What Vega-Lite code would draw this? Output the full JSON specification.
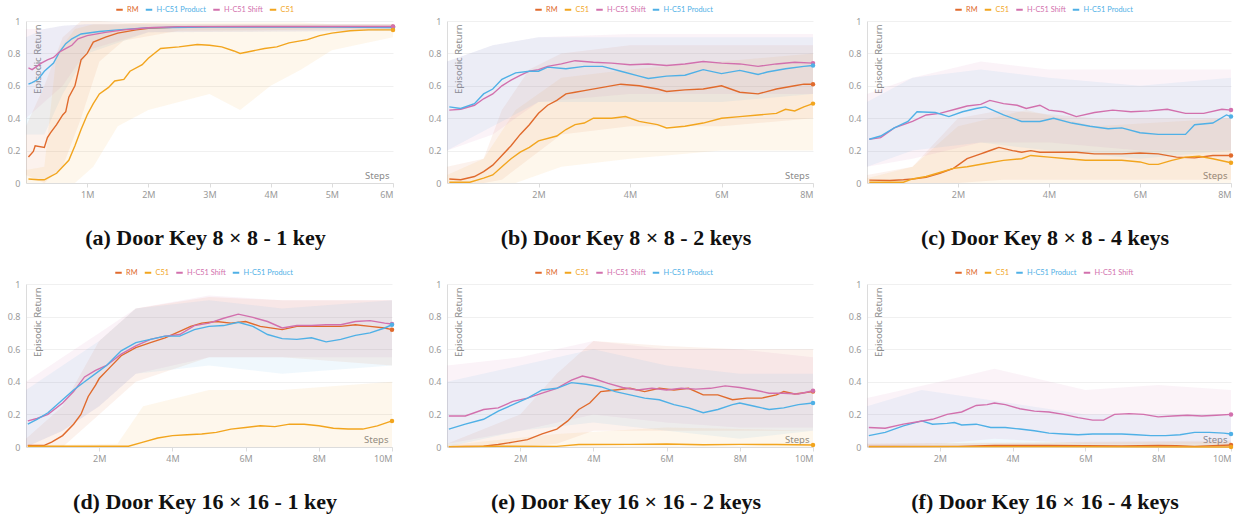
{
"$schema": "https://vega.github.io/schema/vega-lite/v6.json",
"padding": {"left": 7, "top": 5, "right": 2, "bottom": 2},
"background": "white",
"columns": 3,
"spacing": {"row": 19, "column": 32},
"resolve": {"scale": {"color": "independent", "x": "independent", "y": "independent"}, "legend": {"color": "independent"}},
"config": {
  "view": {"stroke": null},
  "font": "Noto Sans",
  "axis": {"labelFont": "Noto Sans", "labelFontSize": 9, "labelColor": "#9a9a9a", "titleFont": "Noto Sans", "titleFontSize": 9.5, "titleFontWeight": "normal", "titleColor": "#8a8a8a", "domainColor": "#dcdcdc", "tickColor": "#dcdcdc", "gridColor": "#f0f0f0", "labelOverlap": false},
  "legend": {"labelFont": "Lato", "labelFontSize": 7.4, "gridAlign": "each"},
  "title": {"font": "Liberation Serif", "fontSize": 22, "fontWeight": "bold", "color": "#111111"}
},
"datasets": {
"a": [
{"s":"RM","x":0.04,"y":0.16},{"s":"RM","x":0.12,"y":0.195},{"s":"RM","x":0.15,"y":0.23},{"s":"RM","x":0.3,"y":0.22},{"s":"RM","x":0.35,"y":0.28},{"s":"RM","x":0.4,"y":0.31},{"s":"RM","x":0.5,"y":0.36},{"s":"RM","x":0.6,"y":0.42},{"s":"RM","x":0.65,"y":0.44},{"s":"RM","x":0.7,"y":0.53},{"s":"RM","x":0.8,"y":0.6},{"s":"RM","x":0.9,"y":0.76},{"s":"RM","x":1.0,"y":0.8},{"s":"RM","x":1.1,"y":0.87},{"s":"RM","x":1.3,"y":0.9},{"s":"RM","x":1.5,"y":0.925},{"s":"RM","x":1.8,"y":0.945},{"s":"RM","x":2.0,"y":0.955},{"s":"RM","x":2.5,"y":0.962},{"s":"RM","x":3,"y":0.965},{"s":"RM","x":4,"y":0.965},{"s":"RM","x":5,"y":0.965},{"s":"RM","x":6,"y":0.965},
{"s":"H-C51 Product","x":0.04,"y":0.61},{"s":"H-C51 Product","x":0.1,"y":0.62},{"s":"H-C51 Product","x":0.2,"y":0.64},{"s":"H-C51 Product","x":0.3,"y":0.69},{"s":"H-C51 Product","x":0.45,"y":0.74},{"s":"H-C51 Product","x":0.55,"y":0.81},{"s":"H-C51 Product","x":0.65,"y":0.86},{"s":"H-C51 Product","x":0.75,"y":0.89},{"s":"H-C51 Product","x":0.9,"y":0.92},{"s":"H-C51 Product","x":1.2,"y":0.935},{"s":"H-C51 Product","x":1.5,"y":0.945},{"s":"H-C51 Product","x":2,"y":0.958},{"s":"H-C51 Product","x":3,"y":0.963},{"s":"H-C51 Product","x":4,"y":0.963},{"s":"H-C51 Product","x":5,"y":0.962},{"s":"H-C51 Product","x":6,"y":0.96},
{"s":"H-C51 Shift","x":0.04,"y":0.71},{"s":"H-C51 Shift","x":0.1,"y":0.7},{"s":"H-C51 Shift","x":0.25,"y":0.74},{"s":"H-C51 Shift","x":0.35,"y":0.76},{"s":"H-C51 Shift","x":0.45,"y":0.775},{"s":"H-C51 Shift","x":0.55,"y":0.81},{"s":"H-C51 Shift","x":0.7,"y":0.84},{"s":"H-C51 Shift","x":0.75,"y":0.85},{"s":"H-C51 Shift","x":0.85,"y":0.89},{"s":"H-C51 Shift","x":1.0,"y":0.91},{"s":"H-C51 Shift","x":1.3,"y":0.93},{"s":"H-C51 Shift","x":1.6,"y":0.945},{"s":"H-C51 Shift","x":2,"y":0.958},{"s":"H-C51 Shift","x":2.5,"y":0.965},{"s":"H-C51 Shift","x":4,"y":0.966},{"s":"H-C51 Shift","x":6,"y":0.966},
{"s":"C51","x":0.04,"y":0.025},{"s":"C51","x":0.2,"y":0.02},{"s":"C51","x":0.3,"y":0.02},{"s":"C51","x":0.35,"y":0.03},{"s":"C51","x":0.5,"y":0.06},{"s":"C51","x":0.6,"y":0.1},{"s":"C51","x":0.7,"y":0.14},{"s":"C51","x":0.8,"y":0.23},{"s":"C51","x":0.9,"y":0.33},{"s":"C51","x":1.0,"y":0.42},{"s":"C51","x":1.1,"y":0.49},{"s":"C51","x":1.2,"y":0.55},{"s":"C51","x":1.35,"y":0.59},{"s":"C51","x":1.45,"y":0.63},{"s":"C51","x":1.6,"y":0.64},{"s":"C51","x":1.7,"y":0.69},{"s":"C51","x":1.9,"y":0.73},{"s":"C51","x":2.0,"y":0.77},{"s":"C51","x":2.2,"y":0.83},{"s":"C51","x":2.5,"y":0.84},{"s":"C51","x":2.8,"y":0.855},{"s":"C51","x":3.0,"y":0.85},{"s":"C51","x":3.2,"y":0.84},{"s":"C51","x":3.4,"y":0.815},{"s":"C51","x":3.5,"y":0.8},{"s":"C51","x":3.7,"y":0.815},{"s":"C51","x":3.9,"y":0.83},{"s":"C51","x":4.1,"y":0.84},{"s":"C51","x":4.3,"y":0.865},{"s":"C51","x":4.6,"y":0.885},{"s":"C51","x":4.8,"y":0.91},{"s":"C51","x":5.0,"y":0.925},{"s":"C51","x":5.3,"y":0.94},{"s":"C51","x":5.6,"y":0.945},{"s":"C51","x":6.0,"y":0.945}
],
"a_band": [
{"s":"RM","x":0,"lo":0.05,"hi":0.35},{"s":"RM","x":0.3,"lo":0.0,"hi":0.6},{"s":"RM","x":0.6,"lo":0.1,"hi":0.9},{"s":"RM","x":0.9,"lo":0.4,"hi":1.0},{"s":"RM","x":1.2,"lo":0.75,"hi":1.0},{"s":"RM","x":1.6,"lo":0.88,"hi":0.99},{"s":"RM","x":2.5,"lo":0.94,"hi":0.98},{"s":"RM","x":6,"lo":0.95,"hi":0.98},
{"s":"H-C51 Product","x":0,"lo":0.3,"hi":0.9},{"s":"H-C51 Product","x":0.3,"lo":0.3,"hi":0.95},{"s":"H-C51 Product","x":0.6,"lo":0.55,"hi":0.97},{"s":"H-C51 Product","x":1,"lo":0.8,"hi":0.98},{"s":"H-C51 Product","x":2,"lo":0.93,"hi":0.98},{"s":"H-C51 Product","x":6,"lo":0.94,"hi":0.98},
{"s":"H-C51 Shift","x":0,"lo":0.4,"hi":0.95},{"s":"H-C51 Shift","x":0.3,"lo":0.5,"hi":0.95},{"s":"H-C51 Shift","x":0.6,"lo":0.6,"hi":0.97},{"s":"H-C51 Shift","x":1,"lo":0.82,"hi":0.98},{"s":"H-C51 Shift","x":2,"lo":0.93,"hi":0.98},{"s":"H-C51 Shift","x":6,"lo":0.94,"hi":0.98},
{"s":"C51","x":0,"lo":0,"hi":0.08},{"s":"C51","x":0.3,"lo":0,"hi":0.1},{"s":"C51","x":0.5,"lo":0,"hi":0.8},{"s":"C51","x":0.8,"lo":0,"hi":0.95},{"s":"C51","x":1.1,"lo":0.1,"hi":0.98},{"s":"C51","x":1.5,"lo":0.35,"hi":0.98},{"s":"C51","x":2,"lo":0.45,"hi":0.99},{"s":"C51","x":3,"lo":0.55,"hi":0.99},{"s":"C51","x":3.5,"lo":0.45,"hi":0.99},{"s":"C51","x":4,"lo":0.6,"hi":0.99},{"s":"C51","x":4.5,"lo":0.7,"hi":0.99},{"s":"C51","x":5,"lo":0.82,"hi":0.98},{"s":"C51","x":6,"lo":0.9,"hi":0.98}
],
"b": [
{"s":"RM","x":0.05,"y":0.025},{"s":"RM","x":0.3,"y":0.02},{"s":"RM","x":0.6,"y":0.04},{"s":"RM","x":0.8,"y":0.07},{"s":"RM","x":1.0,"y":0.11},{"s":"RM","x":1.2,"y":0.17},{"s":"RM","x":1.4,"y":0.23},{"s":"RM","x":1.6,"y":0.3},{"s":"RM","x":1.8,"y":0.36},{"s":"RM","x":2.0,"y":0.43},{"s":"RM","x":2.2,"y":0.48},{"s":"RM","x":2.4,"y":0.51},{"s":"RM","x":2.6,"y":0.55},{"s":"RM","x":2.8,"y":0.56},{"s":"RM","x":3.0,"y":0.57},{"s":"RM","x":3.4,"y":0.59},{"s":"RM","x":3.8,"y":0.61},{"s":"RM","x":4.2,"y":0.6},{"s":"RM","x":4.6,"y":0.58},{"s":"RM","x":4.8,"y":0.565},{"s":"RM","x":5.2,"y":0.575},{"s":"RM","x":5.6,"y":0.58},{"s":"RM","x":6.0,"y":0.6},{"s":"RM","x":6.4,"y":0.56},{"s":"RM","x":6.8,"y":0.55},{"s":"RM","x":7.2,"y":0.58},{"s":"RM","x":7.6,"y":0.6},{"s":"RM","x":7.8,"y":0.61},{"s":"RM","x":8.0,"y":0.61},
{"s":"C51","x":0.05,"y":0.005},{"s":"C51","x":0.5,"y":0.005},{"s":"C51","x":0.8,"y":0.03},{"s":"C51","x":1.0,"y":0.05},{"s":"C51","x":1.2,"y":0.1},{"s":"C51","x":1.4,"y":0.15},{"s":"C51","x":1.6,"y":0.19},{"s":"C51","x":1.8,"y":0.22},{"s":"C51","x":2.0,"y":0.26},{"s":"C51","x":2.4,"y":0.29},{"s":"C51","x":2.6,"y":0.33},{"s":"C51","x":2.8,"y":0.36},{"s":"C51","x":3.0,"y":0.37},{"s":"C51","x":3.2,"y":0.4},{"s":"C51","x":3.6,"y":0.4},{"s":"C51","x":3.9,"y":0.41},{"s":"C51","x":4.2,"y":0.38},{"s":"C51","x":4.6,"y":0.36},{"s":"C51","x":4.8,"y":0.34},{"s":"C51","x":5.2,"y":0.35},{"s":"C51","x":5.6,"y":0.37},{"s":"C51","x":6.0,"y":0.4},{"s":"C51","x":6.4,"y":0.41},{"s":"C51","x":6.8,"y":0.42},{"s":"C51","x":7.2,"y":0.43},{"s":"C51","x":7.4,"y":0.455},{"s":"C51","x":7.6,"y":0.445},{"s":"C51","x":7.8,"y":0.47},{"s":"C51","x":8.0,"y":0.49},
{"s":"H-C51 Shift","x":0.05,"y":0.45},{"s":"H-C51 Shift","x":0.3,"y":0.455},{"s":"H-C51 Shift","x":0.6,"y":0.48},{"s":"H-C51 Shift","x":0.8,"y":0.52},{"s":"H-C51 Shift","x":1.0,"y":0.55},{"s":"H-C51 Shift","x":1.2,"y":0.6},{"s":"H-C51 Shift","x":1.4,"y":0.635},{"s":"H-C51 Shift","x":1.6,"y":0.665},{"s":"H-C51 Shift","x":1.8,"y":0.69},{"s":"H-C51 Shift","x":2.0,"y":0.7},{"s":"H-C51 Shift","x":2.2,"y":0.72},{"s":"H-C51 Shift","x":2.5,"y":0.735},{"s":"H-C51 Shift","x":2.8,"y":0.755},{"s":"H-C51 Shift","x":3.2,"y":0.745},{"s":"H-C51 Shift","x":3.6,"y":0.74},{"s":"H-C51 Shift","x":4.0,"y":0.73},{"s":"H-C51 Shift","x":4.4,"y":0.735},{"s":"H-C51 Shift","x":4.8,"y":0.725},{"s":"H-C51 Shift","x":5.2,"y":0.735},{"s":"H-C51 Shift","x":5.6,"y":0.75},{"s":"H-C51 Shift","x":6.0,"y":0.74},{"s":"H-C51 Shift","x":6.4,"y":0.735},{"s":"H-C51 Shift","x":6.8,"y":0.72},{"s":"H-C51 Shift","x":7.2,"y":0.735},{"s":"H-C51 Shift","x":7.6,"y":0.745},{"s":"H-C51 Shift","x":8.0,"y":0.74},
{"s":"H-C51 Product","x":0.05,"y":0.47},{"s":"H-C51 Product","x":0.3,"y":0.46},{"s":"H-C51 Product","x":0.6,"y":0.49},{"s":"H-C51 Product","x":0.8,"y":0.55},{"s":"H-C51 Product","x":1.0,"y":0.58},{"s":"H-C51 Product","x":1.2,"y":0.64},{"s":"H-C51 Product","x":1.5,"y":0.68},{"s":"H-C51 Product","x":1.8,"y":0.69},{"s":"H-C51 Product","x":2.0,"y":0.69},{"s":"H-C51 Product","x":2.2,"y":0.715},{"s":"H-C51 Product","x":2.6,"y":0.705},{"s":"H-C51 Product","x":3.0,"y":0.72},{"s":"H-C51 Product","x":3.4,"y":0.72},{"s":"H-C51 Product","x":3.8,"y":0.69},{"s":"H-C51 Product","x":4.2,"y":0.66},{"s":"H-C51 Product","x":4.4,"y":0.645},{"s":"H-C51 Product","x":4.8,"y":0.66},{"s":"H-C51 Product","x":5.2,"y":0.665},{"s":"H-C51 Product","x":5.6,"y":0.7},{"s":"H-C51 Product","x":6.0,"y":0.675},{"s":"H-C51 Product","x":6.4,"y":0.695},{"s":"H-C51 Product","x":6.8,"y":0.67},{"s":"H-C51 Product","x":7.0,"y":0.685},{"s":"H-C51 Product","x":7.4,"y":0.705},{"s":"H-C51 Product","x":7.8,"y":0.72},{"s":"H-C51 Product","x":8.0,"y":0.725}
],
"b_band": [
{"s":"RM","x":0,"lo":0,"hi":0.1},{"s":"RM","x":0.8,"lo":0,"hi":0.15},{"s":"RM","x":1.2,"lo":0.02,"hi":0.45},{"s":"RM","x":1.8,"lo":0.15,"hi":0.7},{"s":"RM","x":2.5,"lo":0.3,"hi":0.8},{"s":"RM","x":4,"lo":0.35,"hi":0.85},{"s":"RM","x":6,"lo":0.35,"hi":0.85},{"s":"RM","x":8,"lo":0.4,"hi":0.85},
{"s":"C51","x":0,"lo":0,"hi":0.05},{"s":"C51","x":0.8,"lo":0,"hi":0.15},{"s":"C51","x":1.5,"lo":0,"hi":0.45},{"s":"C51","x":2.5,"lo":0.1,"hi":0.65},{"s":"C51","x":4,"lo":0.15,"hi":0.7},{"s":"C51","x":6,"lo":0.2,"hi":0.75},{"s":"C51","x":8,"lo":0.2,"hi":0.8},
{"s":"H-C51 Shift","x":0,"lo":0.2,"hi":0.75},{"s":"H-C51 Shift","x":1,"lo":0.3,"hi":0.85},{"s":"H-C51 Shift","x":2,"lo":0.5,"hi":0.9},{"s":"H-C51 Shift","x":4,"lo":0.55,"hi":0.92},{"s":"H-C51 Shift","x":6,"lo":0.55,"hi":0.92},{"s":"H-C51 Shift","x":8,"lo":0.55,"hi":0.92},
{"s":"H-C51 Product","x":0,"lo":0.2,"hi":0.75},{"s":"H-C51 Product","x":1,"lo":0.35,"hi":0.85},{"s":"H-C51 Product","x":2,"lo":0.5,"hi":0.9},{"s":"H-C51 Product","x":4,"lo":0.5,"hi":0.9},{"s":"H-C51 Product","x":6,"lo":0.5,"hi":0.9},{"s":"H-C51 Product","x":8,"lo":0.55,"hi":0.9}
],
"c": [
{"s":"RM","x":0.05,"y":0.018},{"s":"RM","x":0.5,"y":0.015},{"s":"RM","x":0.8,"y":0.02},{"s":"RM","x":1.0,"y":0.025},{"s":"RM","x":1.3,"y":0.035},{"s":"RM","x":1.6,"y":0.06},{"s":"RM","x":1.9,"y":0.09},{"s":"RM","x":2.0,"y":0.11},{"s":"RM","x":2.2,"y":0.15},{"s":"RM","x":2.5,"y":0.18},{"s":"RM","x":2.6,"y":0.19},{"s":"RM","x":2.8,"y":0.21},{"s":"RM","x":2.9,"y":0.22},{"s":"RM","x":3.2,"y":0.2},{"s":"RM","x":3.4,"y":0.19},{"s":"RM","x":3.6,"y":0.2},{"s":"RM","x":3.8,"y":0.19},{"s":"RM","x":4.2,"y":0.19},{"s":"RM","x":4.6,"y":0.19},{"s":"RM","x":5.0,"y":0.18},{"s":"RM","x":5.6,"y":0.18},{"s":"RM","x":6.0,"y":0.185},{"s":"RM","x":6.4,"y":0.18},{"s":"RM","x":6.8,"y":0.16},{"s":"RM","x":7.2,"y":0.155},{"s":"RM","x":7.6,"y":0.17},{"s":"RM","x":8.0,"y":0.17},
{"s":"C51","x":0.05,"y":0.005},{"s":"C51","x":0.8,"y":0.005},{"s":"C51","x":1.0,"y":0.025},{"s":"C51","x":1.3,"y":0.04},{"s":"C51","x":1.6,"y":0.065},{"s":"C51","x":1.9,"y":0.09},{"s":"C51","x":2.2,"y":0.1},{"s":"C51","x":2.6,"y":0.12},{"s":"C51","x":3.0,"y":0.14},{"s":"C51","x":3.4,"y":0.15},{"s":"C51","x":3.6,"y":0.17},{"s":"C51","x":4.0,"y":0.16},{"s":"C51","x":4.4,"y":0.15},{"s":"C51","x":4.8,"y":0.14},{"s":"C51","x":5.2,"y":0.14},{"s":"C51","x":5.6,"y":0.14},{"s":"C51","x":6.0,"y":0.13},{"s":"C51","x":6.2,"y":0.115},{"s":"C51","x":6.4,"y":0.115},{"s":"C51","x":6.7,"y":0.14},{"s":"C51","x":7.0,"y":0.16},{"s":"C51","x":7.3,"y":0.165},{"s":"C51","x":7.6,"y":0.15},{"s":"C51","x":8.0,"y":0.125},
{"s":"H-C51 Shift","x":0.05,"y":0.27},{"s":"H-C51 Shift","x":0.3,"y":0.28},{"s":"H-C51 Shift","x":0.6,"y":0.34},{"s":"H-C51 Shift","x":1.0,"y":0.38},{"s":"H-C51 Shift","x":1.3,"y":0.42},{"s":"H-C51 Shift","x":1.6,"y":0.43},{"s":"H-C51 Shift","x":2.0,"y":0.46},{"s":"H-C51 Shift","x":2.2,"y":0.475},{"s":"H-C51 Shift","x":2.5,"y":0.485},{"s":"H-C51 Shift","x":2.7,"y":0.51},{"s":"H-C51 Shift","x":3.0,"y":0.49},{"s":"H-C51 Shift","x":3.3,"y":0.48},{"s":"H-C51 Shift","x":3.5,"y":0.46},{"s":"H-C51 Shift","x":3.8,"y":0.48},{"s":"H-C51 Shift","x":4.0,"y":0.45},{"s":"H-C51 Shift","x":4.3,"y":0.44},{"s":"H-C51 Shift","x":4.6,"y":0.41},{"s":"H-C51 Shift","x":5.0,"y":0.435},{"s":"H-C51 Shift","x":5.4,"y":0.45},{"s":"H-C51 Shift","x":5.8,"y":0.44},{"s":"H-C51 Shift","x":6.2,"y":0.445},{"s":"H-C51 Shift","x":6.6,"y":0.455},{"s":"H-C51 Shift","x":7.0,"y":0.43},{"s":"H-C51 Shift","x":7.4,"y":0.43},{"s":"H-C51 Shift","x":7.8,"y":0.455},{"s":"H-C51 Shift","x":8.0,"y":0.45},
{"s":"H-C51 Product","x":0.05,"y":0.27},{"s":"H-C51 Product","x":0.3,"y":0.29},{"s":"H-C51 Product","x":0.6,"y":0.34},{"s":"H-C51 Product","x":0.9,"y":0.38},{"s":"H-C51 Product","x":1.1,"y":0.44},{"s":"H-C51 Product","x":1.5,"y":0.435},{"s":"H-C51 Product","x":1.8,"y":0.41},{"s":"H-C51 Product","x":2.1,"y":0.44},{"s":"H-C51 Product","x":2.4,"y":0.46},{"s":"H-C51 Product","x":2.6,"y":0.47},{"s":"H-C51 Product","x":3.0,"y":0.42},{"s":"H-C51 Product","x":3.4,"y":0.38},{"s":"H-C51 Product","x":3.8,"y":0.38},{"s":"H-C51 Product","x":4.1,"y":0.4},{"s":"H-C51 Product","x":4.5,"y":0.37},{"s":"H-C51 Product","x":4.9,"y":0.35},{"s":"H-C51 Product","x":5.3,"y":0.335},{"s":"H-C51 Product","x":5.6,"y":0.34},{"s":"H-C51 Product","x":6.0,"y":0.31},{"s":"H-C51 Product","x":6.4,"y":0.3},{"s":"H-C51 Product","x":6.8,"y":0.3},{"s":"H-C51 Product","x":7.0,"y":0.3},{"s":"H-C51 Product","x":7.2,"y":0.36},{"s":"H-C51 Product","x":7.6,"y":0.37},{"s":"H-C51 Product","x":7.9,"y":0.42},{"s":"H-C51 Product","x":8.0,"y":0.41}
],
"c_band": [
{"s":"RM","x":0,"lo":0,"hi":0.05},{"s":"RM","x":1,"lo":0,"hi":0.1},{"s":"RM","x":2,"lo":0,"hi":0.4},{"s":"RM","x":3,"lo":0.02,"hi":0.45},{"s":"RM","x":5,"lo":0.02,"hi":0.4},{"s":"RM","x":8,"lo":0.02,"hi":0.4},
{"s":"C51","x":0,"lo":0,"hi":0.03},{"s":"C51","x":1,"lo":0,"hi":0.1},{"s":"C51","x":2,"lo":0,"hi":0.35},{"s":"C51","x":3.5,"lo":0,"hi":0.45},{"s":"C51","x":5,"lo":0,"hi":0.35},{"s":"C51","x":8,"lo":0,"hi":0.4},
{"s":"H-C51 Shift","x":0,"lo":0.1,"hi":0.55},{"s":"H-C51 Shift","x":1,"lo":0.15,"hi":0.65},{"s":"H-C51 Shift","x":2.5,"lo":0.25,"hi":0.75},{"s":"H-C51 Shift","x":4,"lo":0.25,"hi":0.7},{"s":"H-C51 Shift","x":6,"lo":0.2,"hi":0.7},{"s":"H-C51 Shift","x":8,"lo":0.2,"hi":0.7},
{"s":"H-C51 Product","x":0,"lo":0.1,"hi":0.5},{"s":"H-C51 Product","x":1,"lo":0.2,"hi":0.65},{"s":"H-C51 Product","x":2.5,"lo":0.25,"hi":0.7},{"s":"H-C51 Product","x":4,"lo":0.2,"hi":0.65},{"s":"H-C51 Product","x":6,"lo":0.15,"hi":0.6},{"s":"H-C51 Product","x":8,"lo":0.2,"hi":0.65}
],
"d": [
{"s":"RM","x":0.05,"y":0.01},{"s":"RM","x":0.5,"y":0.01},{"s":"RM","x":0.7,"y":0.03},{"s":"RM","x":1.0,"y":0.07},{"s":"RM","x":1.3,"y":0.14},{"s":"RM","x":1.5,"y":0.2},{"s":"RM","x":1.7,"y":0.31},{"s":"RM","x":1.9,"y":0.38},{"s":"RM","x":2.0,"y":0.42},{"s":"RM","x":2.3,"y":0.49},{"s":"RM","x":2.6,"y":0.56},{"s":"RM","x":3.0,"y":0.61},{"s":"RM","x":3.4,"y":0.64},{"s":"RM","x":3.8,"y":0.67},{"s":"RM","x":4.2,"y":0.71},{"s":"RM","x":4.5,"y":0.74},{"s":"RM","x":4.8,"y":0.76},{"s":"RM","x":5.2,"y":0.77},{"s":"RM","x":5.6,"y":0.76},{"s":"RM","x":6.0,"y":0.77},{"s":"RM","x":6.4,"y":0.74},{"s":"RM","x":7.0,"y":0.72},{"s":"RM","x":7.4,"y":0.74},{"s":"RM","x":8.0,"y":0.74},{"s":"RM","x":8.6,"y":0.74},{"s":"RM","x":9.0,"y":0.75},{"s":"RM","x":9.4,"y":0.74},{"s":"RM","x":9.8,"y":0.73},{"s":"RM","x":10,"y":0.72},
{"s":"C51","x":0.05,"y":0.005},{"s":"C51","x":2.8,"y":0.005},{"s":"C51","x":3.2,"y":0.03},{"s":"C51","x":3.6,"y":0.055},{"s":"C51","x":4.0,"y":0.07},{"s":"C51","x":4.4,"y":0.075},{"s":"C51","x":4.8,"y":0.08},{"s":"C51","x":5.2,"y":0.09},{"s":"C51","x":5.6,"y":0.11},{"s":"C51","x":6.0,"y":0.12},{"s":"C51","x":6.4,"y":0.13},{"s":"C51","x":6.8,"y":0.125},{"s":"C51","x":7.2,"y":0.14},{"s":"C51","x":7.6,"y":0.14},{"s":"C51","x":8.0,"y":0.13},{"s":"C51","x":8.4,"y":0.115},{"s":"C51","x":8.8,"y":0.11},{"s":"C51","x":9.2,"y":0.11},{"s":"C51","x":9.6,"y":0.13},{"s":"C51","x":10,"y":0.16},
{"s":"H-C51 Shift","x":0.05,"y":0.16},{"s":"H-C51 Shift","x":0.3,"y":0.175},{"s":"H-C51 Shift","x":0.6,"y":0.2},{"s":"H-C51 Shift","x":1.0,"y":0.27},{"s":"H-C51 Shift","x":1.3,"y":0.34},{"s":"H-C51 Shift","x":1.6,"y":0.43},{"s":"H-C51 Shift","x":1.9,"y":0.47},{"s":"H-C51 Shift","x":2.2,"y":0.5},{"s":"H-C51 Shift","x":2.6,"y":0.57},{"s":"H-C51 Shift","x":3.0,"y":0.62},{"s":"H-C51 Shift","x":3.4,"y":0.66},{"s":"H-C51 Shift","x":3.8,"y":0.68},{"s":"H-C51 Shift","x":4.2,"y":0.69},{"s":"H-C51 Shift","x":4.6,"y":0.745},{"s":"H-C51 Shift","x":5.0,"y":0.76},{"s":"H-C51 Shift","x":5.4,"y":0.79},{"s":"H-C51 Shift","x":5.8,"y":0.815},{"s":"H-C51 Shift","x":6.2,"y":0.795},{"s":"H-C51 Shift","x":6.6,"y":0.77},{"s":"H-C51 Shift","x":7.0,"y":0.73},{"s":"H-C51 Shift","x":7.4,"y":0.745},{"s":"H-C51 Shift","x":7.8,"y":0.745},{"s":"H-C51 Shift","x":8.2,"y":0.75},{"s":"H-C51 Shift","x":8.6,"y":0.75},{"s":"H-C51 Shift","x":9.0,"y":0.77},{"s":"H-C51 Shift","x":9.4,"y":0.775},{"s":"H-C51 Shift","x":9.8,"y":0.76},{"s":"H-C51 Shift","x":10,"y":0.755},
{"s":"H-C51 Product","x":0.05,"y":0.14},{"s":"H-C51 Product","x":0.3,"y":0.17},{"s":"H-C51 Product","x":0.6,"y":0.21},{"s":"H-C51 Product","x":1.0,"y":0.29},{"s":"H-C51 Product","x":1.3,"y":0.35},{"s":"H-C51 Product","x":1.6,"y":0.4},{"s":"H-C51 Product","x":1.9,"y":0.45},{"s":"H-C51 Product","x":2.2,"y":0.5},{"s":"H-C51 Product","x":2.6,"y":0.59},{"s":"H-C51 Product","x":3.0,"y":0.64},{"s":"H-C51 Product","x":3.4,"y":0.66},{"s":"H-C51 Product","x":3.8,"y":0.68},{"s":"H-C51 Product","x":4.2,"y":0.68},{"s":"H-C51 Product","x":4.6,"y":0.72},{"s":"H-C51 Product","x":5.0,"y":0.74},{"s":"H-C51 Product","x":5.4,"y":0.745},{"s":"H-C51 Product","x":5.8,"y":0.765},{"s":"H-C51 Product","x":6.2,"y":0.74},{"s":"H-C51 Product","x":6.6,"y":0.69},{"s":"H-C51 Product","x":7.0,"y":0.665},{"s":"H-C51 Product","x":7.4,"y":0.66},{"s":"H-C51 Product","x":7.8,"y":0.67},{"s":"H-C51 Product","x":8.2,"y":0.645},{"s":"H-C51 Product","x":8.6,"y":0.66},{"s":"H-C51 Product","x":9.0,"y":0.685},{"s":"H-C51 Product","x":9.4,"y":0.7},{"s":"H-C51 Product","x":9.8,"y":0.73},{"s":"H-C51 Product","x":10,"y":0.75}
],
"d_band": [
{"s":"RM","x":0,"lo":0,"hi":0.05},{"s":"RM","x":1,"lo":0,"hi":0.25},{"s":"RM","x":2,"lo":0.2,"hi":0.65},{"s":"RM","x":3,"lo":0.4,"hi":0.85},{"s":"RM","x":5,"lo":0.55,"hi":0.92},{"s":"RM","x":7,"lo":0.55,"hi":0.9},{"s":"RM","x":10,"lo":0.5,"hi":0.9},
{"s":"C51","x":0,"lo":0,"hi":0.01},{"s":"C51","x":2.5,"lo":0,"hi":0.02},{"s":"C51","x":3.2,"lo":0,"hi":0.25},{"s":"C51","x":5,"lo":0,"hi":0.35},{"s":"C51","x":7,"lo":0,"hi":0.35},{"s":"C51","x":10,"lo":0,"hi":0.4},
{"s":"H-C51 Shift","x":0,"lo":0,"hi":0.4},{"s":"H-C51 Shift","x":1,"lo":0.1,"hi":0.55},{"s":"H-C51 Shift","x":2,"lo":0.25,"hi":0.7},{"s":"H-C51 Shift","x":3,"lo":0.45,"hi":0.85},{"s":"H-C51 Shift","x":5,"lo":0.55,"hi":0.93},{"s":"H-C51 Shift","x":7,"lo":0.55,"hi":0.9},{"s":"H-C51 Shift","x":10,"lo":0.55,"hi":0.9},
{"s":"H-C51 Product","x":0,"lo":0,"hi":0.35},{"s":"H-C51 Product","x":1,"lo":0.1,"hi":0.5},{"s":"H-C51 Product","x":2,"lo":0.25,"hi":0.65},{"s":"H-C51 Product","x":3,"lo":0.45,"hi":0.85},{"s":"H-C51 Product","x":5,"lo":0.5,"hi":0.9},{"s":"H-C51 Product","x":7,"lo":0.45,"hi":0.85},{"s":"H-C51 Product","x":10,"lo":0.5,"hi":0.9}
],
"e": [
{"s":"RM","x":0.05,"y":0.002},{"s":"RM","x":1.0,"y":0.005},{"s":"RM","x":1.4,"y":0.015},{"s":"RM","x":1.8,"y":0.03},{"s":"RM","x":2.2,"y":0.045},{"s":"RM","x":2.6,"y":0.08},{"s":"RM","x":3.0,"y":0.11},{"s":"RM","x":3.3,"y":0.16},{"s":"RM","x":3.6,"y":0.23},{"s":"RM","x":3.9,"y":0.27},{"s":"RM","x":4.2,"y":0.34},{"s":"RM","x":4.6,"y":0.35},{"s":"RM","x":5.0,"y":0.36},{"s":"RM","x":5.4,"y":0.34},{"s":"RM","x":5.8,"y":0.36},{"s":"RM","x":6.2,"y":0.35},{"s":"RM","x":6.6,"y":0.36},{"s":"RM","x":7.0,"y":0.32},{"s":"RM","x":7.4,"y":0.32},{"s":"RM","x":7.8,"y":0.29},{"s":"RM","x":8.2,"y":0.3},{"s":"RM","x":8.6,"y":0.3},{"s":"RM","x":9.0,"y":0.32},{"s":"RM","x":9.2,"y":0.34},{"s":"RM","x":9.5,"y":0.325},{"s":"RM","x":10,"y":0.34},
{"s":"C51","x":0.05,"y":0.002},{"s":"C51","x":1.5,"y":0.005},{"s":"C51","x":3.0,"y":0.004},{"s":"C51","x":3.6,"y":0.015},{"s":"C51","x":5.0,"y":0.016},{"s":"C51","x":6.0,"y":0.018},{"s":"C51","x":7.0,"y":0.014},{"s":"C51","x":8.0,"y":0.016},{"s":"C51","x":9.0,"y":0.015},{"s":"C51","x":10,"y":0.012},
{"s":"H-C51 Shift","x":0.05,"y":0.19},{"s":"H-C51 Shift","x":0.5,"y":0.19},{"s":"H-C51 Shift","x":1.0,"y":0.23},{"s":"H-C51 Shift","x":1.4,"y":0.24},{"s":"H-C51 Shift","x":1.8,"y":0.28},{"s":"H-C51 Shift","x":2.2,"y":0.3},{"s":"H-C51 Shift","x":2.6,"y":0.33},{"s":"H-C51 Shift","x":3.0,"y":0.36},{"s":"H-C51 Shift","x":3.4,"y":0.41},{"s":"H-C51 Shift","x":3.7,"y":0.435},{"s":"H-C51 Shift","x":4.0,"y":0.42},{"s":"H-C51 Shift","x":4.4,"y":0.39},{"s":"H-C51 Shift","x":4.8,"y":0.365},{"s":"H-C51 Shift","x":5.2,"y":0.35},{"s":"H-C51 Shift","x":5.6,"y":0.36},{"s":"H-C51 Shift","x":6.0,"y":0.35},{"s":"H-C51 Shift","x":6.4,"y":0.36},{"s":"H-C51 Shift","x":6.8,"y":0.355},{"s":"H-C51 Shift","x":7.2,"y":0.36},{"s":"H-C51 Shift","x":7.6,"y":0.375},{"s":"H-C51 Shift","x":8.0,"y":0.365},{"s":"H-C51 Shift","x":8.4,"y":0.35},{"s":"H-C51 Shift","x":8.8,"y":0.33},{"s":"H-C51 Shift","x":9.2,"y":0.33},{"s":"H-C51 Shift","x":9.6,"y":0.325},{"s":"H-C51 Shift","x":10,"y":0.345},
{"s":"H-C51 Product","x":0.05,"y":0.11},{"s":"H-C51 Product","x":0.5,"y":0.14},{"s":"H-C51 Product","x":1.0,"y":0.17},{"s":"H-C51 Product","x":1.4,"y":0.22},{"s":"H-C51 Product","x":1.8,"y":0.26},{"s":"H-C51 Product","x":2.2,"y":0.3},{"s":"H-C51 Product","x":2.6,"y":0.35},{"s":"H-C51 Product","x":3.0,"y":0.36},{"s":"H-C51 Product","x":3.4,"y":0.395},{"s":"H-C51 Product","x":3.8,"y":0.385},{"s":"H-C51 Product","x":4.2,"y":0.37},{"s":"H-C51 Product","x":4.6,"y":0.34},{"s":"H-C51 Product","x":5.0,"y":0.32},{"s":"H-C51 Product","x":5.4,"y":0.3},{"s":"H-C51 Product","x":5.8,"y":0.29},{"s":"H-C51 Product","x":6.2,"y":0.26},{"s":"H-C51 Product","x":6.6,"y":0.24},{"s":"H-C51 Product","x":7.0,"y":0.21},{"s":"H-C51 Product","x":7.4,"y":0.23},{"s":"H-C51 Product","x":7.8,"y":0.26},{"s":"H-C51 Product","x":8.0,"y":0.27},{"s":"H-C51 Product","x":8.4,"y":0.25},{"s":"H-C51 Product","x":8.8,"y":0.23},{"s":"H-C51 Product","x":9.2,"y":0.24},{"s":"H-C51 Product","x":9.6,"y":0.26},{"s":"H-C51 Product","x":10,"y":0.27}
],
"e_band": [
{"s":"RM","x":0,"lo":0,"hi":0.02},{"s":"RM","x":2,"lo":0,"hi":0.2},{"s":"RM","x":3,"lo":0.02,"hi":0.45},{"s":"RM","x":4,"lo":0.1,"hi":0.65},{"s":"RM","x":6,"lo":0.1,"hi":0.62},{"s":"RM","x":8,"lo":0.1,"hi":0.6},{"s":"RM","x":10,"lo":0.1,"hi":0.6},
{"s":"C51","x":0,"lo":0,"hi":0.01},{"s":"C51","x":3,"lo":0,"hi":0.08},{"s":"C51","x":6,"lo":0,"hi":0.12},{"s":"C51","x":10,"lo":0,"hi":0.1},
{"s":"H-C51 Shift","x":0,"lo":0.02,"hi":0.5},{"s":"H-C51 Shift","x":2,"lo":0.1,"hi":0.55},{"s":"H-C51 Shift","x":4,"lo":0.2,"hi":0.65},{"s":"H-C51 Shift","x":6,"lo":0.15,"hi":0.6},{"s":"H-C51 Shift","x":8,"lo":0.12,"hi":0.6},{"s":"H-C51 Shift","x":10,"lo":0.12,"hi":0.55},
{"s":"H-C51 Product","x":0,"lo":0,"hi":0.4},{"s":"H-C51 Product","x":2,"lo":0.1,"hi":0.5},{"s":"H-C51 Product","x":4,"lo":0.15,"hi":0.6},{"s":"H-C51 Product","x":6,"lo":0.1,"hi":0.5},{"s":"H-C51 Product","x":8,"lo":0.05,"hi":0.45},{"s":"H-C51 Product","x":10,"lo":0.1,"hi":0.45}
],
"f": [
{"s":"RM","x":0.05,"y":0.003},{"s":"RM","x":2.5,"y":0.004},{"s":"RM","x":3.5,"y":0.01},{"s":"RM","x":5.0,"y":0.01},{"s":"RM","x":6.0,"y":0.008},{"s":"RM","x":7.0,"y":0.006},{"s":"RM","x":8.0,"y":0.009},{"s":"RM","x":8.5,"y":0.008},{"s":"RM","x":9.0,"y":0.004},{"s":"RM","x":10,"y":0.012},
{"s":"C51","x":0.05,"y":0.002},{"s":"C51","x":5.0,"y":0.002},{"s":"C51","x":10,"y":0.0},
{"s":"H-C51 Product","x":0.05,"y":0.07},{"s":"H-C51 Product","x":0.5,"y":0.09},{"s":"H-C51 Product","x":1.0,"y":0.13},{"s":"H-C51 Product","x":1.5,"y":0.16},{"s":"H-C51 Product","x":1.8,"y":0.14},{"s":"H-C51 Product","x":2.2,"y":0.145},{"s":"H-C51 Product","x":2.4,"y":0.15},{"s":"H-C51 Product","x":2.6,"y":0.135},{"s":"H-C51 Product","x":3.0,"y":0.14},{"s":"H-C51 Product","x":3.4,"y":0.12},{"s":"H-C51 Product","x":3.8,"y":0.12},{"s":"H-C51 Product","x":4.2,"y":0.11},{"s":"H-C51 Product","x":4.6,"y":0.1},{"s":"H-C51 Product","x":5.0,"y":0.085},{"s":"H-C51 Product","x":5.4,"y":0.08},{"s":"H-C51 Product","x":5.8,"y":0.075},{"s":"H-C51 Product","x":6.2,"y":0.08},{"s":"H-C51 Product","x":6.6,"y":0.08},{"s":"H-C51 Product","x":7.0,"y":0.08},{"s":"H-C51 Product","x":7.4,"y":0.075},{"s":"H-C51 Product","x":7.8,"y":0.07},{"s":"H-C51 Product","x":8.2,"y":0.07},{"s":"H-C51 Product","x":8.6,"y":0.075},{"s":"H-C51 Product","x":9.0,"y":0.09},{"s":"H-C51 Product","x":9.4,"y":0.09},{"s":"H-C51 Product","x":9.8,"y":0.085},{"s":"H-C51 Product","x":10,"y":0.08},
{"s":"H-C51 Shift","x":0.05,"y":0.12},{"s":"H-C51 Shift","x":0.5,"y":0.115},{"s":"H-C51 Shift","x":1.0,"y":0.14},{"s":"H-C51 Shift","x":1.4,"y":0.155},{"s":"H-C51 Shift","x":1.8,"y":0.17},{"s":"H-C51 Shift","x":2.2,"y":0.2},{"s":"H-C51 Shift","x":2.6,"y":0.215},{"s":"H-C51 Shift","x":3.0,"y":0.255},{"s":"H-C51 Shift","x":3.3,"y":0.26},{"s":"H-C51 Shift","x":3.5,"y":0.27},{"s":"H-C51 Shift","x":3.8,"y":0.26},{"s":"H-C51 Shift","x":4.2,"y":0.235},{"s":"H-C51 Shift","x":4.6,"y":0.22},{"s":"H-C51 Shift","x":5.0,"y":0.215},{"s":"H-C51 Shift","x":5.4,"y":0.2},{"s":"H-C51 Shift","x":5.8,"y":0.18},{"s":"H-C51 Shift","x":6.2,"y":0.165},{"s":"H-C51 Shift","x":6.5,"y":0.165},{"s":"H-C51 Shift","x":6.8,"y":0.2},{"s":"H-C51 Shift","x":7.2,"y":0.205},{"s":"H-C51 Shift","x":7.6,"y":0.2},{"s":"H-C51 Shift","x":8.0,"y":0.185},{"s":"H-C51 Shift","x":8.4,"y":0.19},{"s":"H-C51 Shift","x":8.8,"y":0.195},{"s":"H-C51 Shift","x":9.2,"y":0.19},{"s":"H-C51 Shift","x":9.6,"y":0.195},{"s":"H-C51 Shift","x":10,"y":0.2}
],
"f_band": [
{"s":"RM","x":0,"lo":0,"hi":0.02},{"s":"RM","x":10,"lo":0,"hi":0.04},
{"s":"C51","x":0,"lo":0,"hi":0.02},{"s":"C51","x":10,"lo":0,"hi":0.03},
{"s":"H-C51 Product","x":0,"lo":0,"hi":0.25},{"s":"H-C51 Product","x":1.5,"lo":0,"hi":0.35},{"s":"H-C51 Product","x":3,"lo":0,"hi":0.3},{"s":"H-C51 Product","x":6,"lo":0,"hi":0.2},{"s":"H-C51 Product","x":10,"lo":0,"hi":0.2},
{"s":"H-C51 Shift","x":0,"lo":0,"hi":0.3},{"s":"H-C51 Shift","x":2,"lo":0.02,"hi":0.4},{"s":"H-C51 Shift","x":3.5,"lo":0.05,"hi":0.48},{"s":"H-C51 Shift","x":6,"lo":0.02,"hi":0.35},{"s":"H-C51 Shift","x":8,"lo":0.02,"hi":0.38},{"s":"H-C51 Shift","x":10,"lo":0.02,"hi":0.35}
]
},
"concat": [
{"width": 367, "height": 162,
 "title": {"text": "(a) Door Key 8 × 8 - 1 key", "orient": "bottom", "offset": 29, "frame": "group", "dx": -4},
 "layer": [
  {"data": {"name": "a_band"}, "mark": {"type": "area", "opacity": 0.085},
   "encoding": {
    "x": {"field": "x", "type": "quantitative", "scale": {"domain": [0, 6], "nice": false, "zero": false}, "axis": {"values": [1,2,3,4,5,6], "labelExpr": "datum.value + 'M'", "title": "Steps", "titleX": 363, "titleY": -3, "titleAlign": "right", "titleBaseline": "bottom", "grid": false, "tickSize": 4, "labelPadding": 3, "labelOverlap": false}},
    "y": {"field": "lo", "type": "quantitative", "stack": null, "scale": {"domain": [0, 1], "nice": false}, "axis": {"values": [0,0.2,0.4,0.6,0.8,1], "tickCount": 6, "labelOverlap": false, "format": "~g", "title": "Episodic Return", "titleAngle": -90, "titleX": 6, "titleY": 3, "titleAlign": "right", "titleBaseline": "top", "ticks": false, "labelPadding": 6, "grid": true}},
    "y2": {"field": "hi"},
    "color": {"field": "s", "type": "nominal", "scale": {"domain": ["RM", "H-C51 Product", "H-C51 Shift", "C51"], "range": ["#e06a2c", "#4fb0e6", "#d270ad", "#f2a51e"]},
     "legend": {"orient": "none", "legendX": 89, "legendY": -16, "direction": "horizontal", "gridAlign": "each", "title": null, "labelFontSize": 7.4, "symbolType": "stroke", "symbolStrokeWidth": 2, "symbolSize": 42, "symbolOpacity": 1, "columnPadding": 2.5, "labelOffset": 3, "encode": {"labels": {"update": {"fill": {"signal": "datum.value === 'RM' ? '#e06a2c' : datum.value === 'C51' ? '#f2a51e' : datum.value === 'H-C51 Shift' ? '#d270ad' : '#4fb0e6'"}}}}}}
   }},
  {"data": {"name": "a"}, "mark": {"type": "line", "strokeWidth": 1.4},
   "encoding": {"x": {"field": "x", "type": "quantitative"}, "y": {"field": "y", "type": "quantitative"}, "color": {"field": "s", "type": "nominal"}}},
  {"data": {"name": "a"}, "transform": [{"joinaggregate": [{"op": "max", "field": "x", "as": "mx"}], "groupby": ["s"]}, {"filter": "datum.x == datum.mx"}],
   "mark": {"type": "circle", "size": 20, "opacity": 1},
   "encoding": {"x": {"field": "x", "type": "quantitative"}, "y": {"field": "y", "type": "quantitative"}, "color": {"field": "s", "type": "nominal"}}}
 ]},
{"width": 366, "height": 162,
 "title": {"text": "(b) Door Key 8 × 8 - 2 keys", "orient": "bottom", "offset": 29, "frame": "group", "dx": -4},
 "layer": [
  {"data": {"name": "b_band"}, "mark": {"type": "area", "opacity": 0.085},
   "encoding": {
    "x": {"field": "x", "type": "quantitative", "scale": {"domain": [0, 8], "nice": false, "zero": false}, "axis": {"values": [2,4,6,8], "labelExpr": "datum.value + 'M'", "title": "Steps", "titleX": 362, "titleY": -3, "titleAlign": "right", "titleBaseline": "bottom", "grid": false, "tickSize": 4, "labelPadding": 3, "labelOverlap": false}},
    "y": {"field": "lo", "type": "quantitative", "stack": null, "scale": {"domain": [0, 1], "nice": false}, "axis": {"values": [0,0.2,0.4,0.6,0.8,1], "tickCount": 6, "labelOverlap": false, "format": "~g", "title": "Episodic Return", "titleAngle": -90, "titleX": 6, "titleY": 3, "titleAlign": "right", "titleBaseline": "top", "ticks": false, "labelPadding": 6, "grid": true}},
    "y2": {"field": "hi"},
    "color": {"field": "s", "type": "nominal", "scale": {"domain": ["RM", "C51", "H-C51 Shift", "H-C51 Product"], "range": ["#e06a2c", "#f2a51e", "#d270ad", "#4fb0e6"]},
     "legend": {"orient": "none", "legendX": 87, "legendY": -16, "direction": "horizontal", "gridAlign": "each", "title": null, "labelFontSize": 7.4, "symbolType": "stroke", "symbolStrokeWidth": 2, "symbolSize": 42, "symbolOpacity": 1, "columnPadding": 2.5, "labelOffset": 3, "encode": {"labels": {"update": {"fill": {"signal": "datum.value === 'RM' ? '#e06a2c' : datum.value === 'C51' ? '#f2a51e' : datum.value === 'H-C51 Shift' ? '#d270ad' : '#4fb0e6'"}}}}}}
   }},
  {"data": {"name": "b"}, "mark": {"type": "line", "strokeWidth": 1.4},
   "encoding": {"x": {"field": "x", "type": "quantitative"}, "y": {"field": "y", "type": "quantitative"}, "color": {"field": "s", "type": "nominal"}}},
  {"data": {"name": "b"}, "transform": [{"joinaggregate": [{"op": "max", "field": "x", "as": "mx"}], "groupby": ["s"]}, {"filter": "datum.x == datum.mx"}],
   "mark": {"type": "circle", "size": 20, "opacity": 1},
   "encoding": {"x": {"field": "x", "type": "quantitative"}, "y": {"field": "y", "type": "quantitative"}, "color": {"field": "s", "type": "nominal"}}}
 ]},
{"width": 364, "height": 162,
 "title": {"text": "(c) Door Key 8 × 8 - 4 keys", "orient": "bottom", "offset": 29, "frame": "group", "dx": -4},
 "layer": [
  {"data": {"name": "c_band"}, "mark": {"type": "area", "opacity": 0.085},
   "encoding": {
    "x": {"field": "x", "type": "quantitative", "scale": {"domain": [0, 8], "nice": false, "zero": false}, "axis": {"values": [2,4,6,8], "labelExpr": "datum.value + 'M'", "title": "Steps", "titleX": 360, "titleY": -3, "titleAlign": "right", "titleBaseline": "bottom", "grid": false, "tickSize": 4, "labelPadding": 3, "labelOverlap": false}},
    "y": {"field": "lo", "type": "quantitative", "stack": null, "scale": {"domain": [0, 1], "nice": false}, "axis": {"values": [0,0.2,0.4,0.6,0.8,1], "tickCount": 6, "labelOverlap": false, "format": "~g", "title": "Episodic Return", "titleAngle": -90, "titleX": 6, "titleY": 3, "titleAlign": "right", "titleBaseline": "top", "ticks": false, "labelPadding": 6, "grid": true}},
    "y2": {"field": "hi"},
    "color": {"field": "s", "type": "nominal", "scale": {"domain": ["RM", "C51", "H-C51 Shift", "H-C51 Product"], "range": ["#e06a2c", "#f2a51e", "#d270ad", "#4fb0e6"]},
     "legend": {"orient": "none", "legendX": 87, "legendY": -16, "direction": "horizontal", "gridAlign": "each", "title": null, "labelFontSize": 7.4, "symbolType": "stroke", "symbolStrokeWidth": 2, "symbolSize": 42, "symbolOpacity": 1, "columnPadding": 2.5, "labelOffset": 3, "encode": {"labels": {"update": {"fill": {"signal": "datum.value === 'RM' ? '#e06a2c' : datum.value === 'C51' ? '#f2a51e' : datum.value === 'H-C51 Shift' ? '#d270ad' : '#4fb0e6'"}}}}}}
   }},
  {"data": {"name": "c"}, "mark": {"type": "line", "strokeWidth": 1.4},
   "encoding": {"x": {"field": "x", "type": "quantitative"}, "y": {"field": "y", "type": "quantitative"}, "color": {"field": "s", "type": "nominal"}}},
  {"data": {"name": "c"}, "transform": [{"joinaggregate": [{"op": "max", "field": "x", "as": "mx"}], "groupby": ["s"]}, {"filter": "datum.x == datum.mx"}],
   "mark": {"type": "circle", "size": 20, "opacity": 1},
   "encoding": {"x": {"field": "x", "type": "quantitative"}, "y": {"field": "y", "type": "quantitative"}, "color": {"field": "s", "type": "nominal"}}}
 ]},
{"width": 366, "height": 163,
 "title": {"text": "(d) Door Key 16 × 16 - 1 key", "orient": "bottom", "offset": 29, "frame": "group", "dx": -4},
 "layer": [
  {"data": {"name": "d_band"}, "mark": {"type": "area", "opacity": 0.085},
   "encoding": {
    "x": {"field": "x", "type": "quantitative", "scale": {"domain": [0, 10], "nice": false, "zero": false}, "axis": {"values": [2,4,6,8,10], "labelExpr": "datum.value + 'M'", "title": "Steps", "titleX": 362, "titleY": -3, "titleAlign": "right", "titleBaseline": "bottom", "grid": false, "tickSize": 4, "labelPadding": 3, "labelOverlap": false}},
    "y": {"field": "lo", "type": "quantitative", "stack": null, "scale": {"domain": [0, 1], "nice": false}, "axis": {"values": [0,0.2,0.4,0.6,0.8,1], "tickCount": 6, "labelOverlap": false, "format": "~g", "title": "Episodic Return", "titleAngle": -90, "titleX": 6, "titleY": 3, "titleAlign": "right", "titleBaseline": "top", "ticks": false, "labelPadding": 6, "grid": true}},
    "y2": {"field": "hi"},
    "color": {"field": "s", "type": "nominal", "scale": {"domain": ["RM", "C51", "H-C51 Shift", "H-C51 Product"], "range": ["#e06a2c", "#f2a51e", "#d270ad", "#4fb0e6"]},
     "legend": {"orient": "none", "legendX": 88, "legendY": -16, "direction": "horizontal", "gridAlign": "each", "title": null, "labelFontSize": 7.4, "symbolType": "stroke", "symbolStrokeWidth": 2, "symbolSize": 42, "symbolOpacity": 1, "columnPadding": 2.5, "labelOffset": 3, "encode": {"labels": {"update": {"fill": {"signal": "datum.value === 'RM' ? '#e06a2c' : datum.value === 'C51' ? '#f2a51e' : datum.value === 'H-C51 Shift' ? '#d270ad' : '#4fb0e6'"}}}}}}
   }},
  {"data": {"name": "d"}, "mark": {"type": "line", "strokeWidth": 1.4},
   "encoding": {"x": {"field": "x", "type": "quantitative"}, "y": {"field": "y", "type": "quantitative"}, "color": {"field": "s", "type": "nominal"}}},
  {"data": {"name": "d"}, "transform": [{"joinaggregate": [{"op": "max", "field": "x", "as": "mx"}], "groupby": ["s"]}, {"filter": "datum.x == datum.mx"}],
   "mark": {"type": "circle", "size": 20, "opacity": 1},
   "encoding": {"x": {"field": "x", "type": "quantitative"}, "y": {"field": "y", "type": "quantitative"}, "color": {"field": "s", "type": "nominal"}}}
 ]},
{"width": 366, "height": 163,
 "title": {"text": "(e) Door Key 16 × 16 - 2 keys", "orient": "bottom", "offset": 29, "frame": "group", "dx": -4},
 "layer": [
  {"data": {"name": "e_band"}, "mark": {"type": "area", "opacity": 0.085},
   "encoding": {
    "x": {"field": "x", "type": "quantitative", "scale": {"domain": [0, 10], "nice": false, "zero": false}, "axis": {"values": [2,4,6,8,10], "labelExpr": "datum.value + 'M'", "title": "Steps", "titleX": 362, "titleY": -3, "titleAlign": "right", "titleBaseline": "bottom", "grid": false, "tickSize": 4, "labelPadding": 3, "labelOverlap": false}},
    "y": {"field": "lo", "type": "quantitative", "stack": null, "scale": {"domain": [0, 1], "nice": false}, "axis": {"values": [0,0.2,0.4,0.6,0.8,1], "tickCount": 6, "labelOverlap": false, "format": "~g", "title": "Episodic Return", "titleAngle": -90, "titleX": 6, "titleY": 3, "titleAlign": "right", "titleBaseline": "top", "ticks": false, "labelPadding": 6, "grid": true}},
    "y2": {"field": "hi"},
    "color": {"field": "s", "type": "nominal", "scale": {"domain": ["RM", "C51", "H-C51 Shift", "H-C51 Product"], "range": ["#e06a2c", "#f2a51e", "#d270ad", "#4fb0e6"]},
     "legend": {"orient": "none", "legendX": 87, "legendY": -16, "direction": "horizontal", "gridAlign": "each", "title": null, "labelFontSize": 7.4, "symbolType": "stroke", "symbolStrokeWidth": 2, "symbolSize": 42, "symbolOpacity": 1, "columnPadding": 2.5, "labelOffset": 3, "encode": {"labels": {"update": {"fill": {"signal": "datum.value === 'RM' ? '#e06a2c' : datum.value === 'C51' ? '#f2a51e' : datum.value === 'H-C51 Shift' ? '#d270ad' : '#4fb0e6'"}}}}}}
   }},
  {"data": {"name": "e"}, "mark": {"type": "line", "strokeWidth": 1.4},
   "encoding": {"x": {"field": "x", "type": "quantitative"}, "y": {"field": "y", "type": "quantitative"}, "color": {"field": "s", "type": "nominal"}}},
  {"data": {"name": "e"}, "transform": [{"joinaggregate": [{"op": "max", "field": "x", "as": "mx"}], "groupby": ["s"]}, {"filter": "datum.x == datum.mx"}],
   "mark": {"type": "circle", "size": 20, "opacity": 1},
   "encoding": {"x": {"field": "x", "type": "quantitative"}, "y": {"field": "y", "type": "quantitative"}, "color": {"field": "s", "type": "nominal"}}}
 ]},
{"width": 364, "height": 163,
 "title": {"text": "(f) Door Key 16 × 16 - 4 keys", "orient": "bottom", "offset": 29, "frame": "group", "dx": -4},
 "layer": [
  {"data": {"name": "f_band"}, "mark": {"type": "area", "opacity": 0.085},
   "encoding": {
    "x": {"field": "x", "type": "quantitative", "scale": {"domain": [0, 10], "nice": false, "zero": false}, "axis": {"values": [2,4,6,8,10], "labelExpr": "datum.value + 'M'", "title": "Steps", "titleX": 360, "titleY": -3, "titleAlign": "right", "titleBaseline": "bottom", "grid": false, "tickSize": 4, "labelPadding": 3, "labelOverlap": false}},
    "y": {"field": "lo", "type": "quantitative", "stack": null, "scale": {"domain": [0, 1], "nice": false}, "axis": {"values": [0,0.2,0.4,0.6,0.8,1], "tickCount": 6, "labelOverlap": false, "format": "~g", "title": "Episodic Return", "titleAngle": -90, "titleX": 6, "titleY": 3, "titleAlign": "right", "titleBaseline": "top", "ticks": false, "labelPadding": 6, "grid": true}},
    "y2": {"field": "hi"},
    "color": {"field": "s", "type": "nominal", "scale": {"domain": ["RM", "C51", "H-C51 Product", "H-C51 Shift"], "range": ["#e06a2c", "#f2a51e", "#4fb0e6", "#d270ad"]},
     "legend": {"orient": "none", "legendX": 87, "legendY": -16, "direction": "horizontal", "gridAlign": "each", "title": null, "labelFontSize": 7.4, "symbolType": "stroke", "symbolStrokeWidth": 2, "symbolSize": 42, "symbolOpacity": 1, "columnPadding": 2.5, "labelOffset": 3, "encode": {"labels": {"update": {"fill": {"signal": "datum.value === 'RM' ? '#e06a2c' : datum.value === 'C51' ? '#f2a51e' : datum.value === 'H-C51 Shift' ? '#d270ad' : '#4fb0e6'"}}}}}}
   }},
  {"data": {"name": "f"}, "mark": {"type": "line", "strokeWidth": 1.4},
   "encoding": {"x": {"field": "x", "type": "quantitative"}, "y": {"field": "y", "type": "quantitative"}, "color": {"field": "s", "type": "nominal"}}},
  {"data": {"name": "f"}, "transform": [{"joinaggregate": [{"op": "max", "field": "x", "as": "mx"}], "groupby": ["s"]}, {"filter": "datum.x == datum.mx"}],
   "mark": {"type": "circle", "size": 20, "opacity": 1},
   "encoding": {"x": {"field": "x", "type": "quantitative"}, "y": {"field": "y", "type": "quantitative"}, "color": {"field": "s", "type": "nominal"}}}
 ]}
]
}
